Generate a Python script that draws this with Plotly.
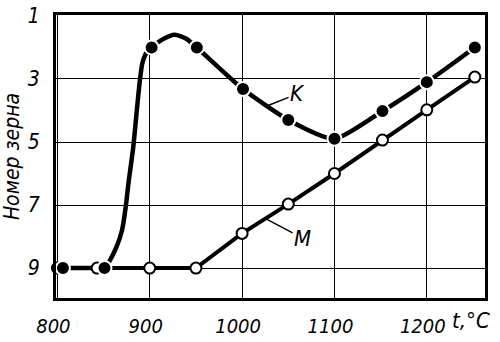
import plotly.graph_objects as go

# ---- data ----
# Curve K (filled markers)
k_t = [806, 851, 902, 951, 1001, 1050, 1100, 1152, 1200, 1252]
k_n = [9.0, 9.0, 2.0, 2.0, 3.32, 4.3, 4.9, 4.02, 3.1, 2.0]
# shape of curve K between markers
k_rise_t = [857, 864, 870, 874, 877, 882, 886, 889, 892, 897]
k_rise_n = [8.75, 8.33, 7.8, 7.06, 6.3, 5.2, 4.0, 3.13, 2.5, 2.14]
k_arc_t = [913, 927, 940]
k_arc_n = [1.76, 1.6, 1.73]

# Curve M (open markers)
m_t = [800, 843, 900, 950, 1000, 1050, 1100, 1152, 1200, 1252]
m_n = [9.0, 9.0, 9.0, 9.0, 7.9, 6.97, 6.0, 4.94, 3.98, 2.94]

x_ticks = [800, 900, 1000, 1100, 1200]
y_ticks = [1, 3, 5, 7, 9]
x_unit = "t,°C"
y_title = "Номер зерна"

FONT = "DejaVu Sans Condensed, sans-serif"

# K line: starts at the second marker (the flat part is shared with M)
k_line_t = [k_t[1]] + k_rise_t + [k_t[2]] + k_arc_t + k_t[3:]
k_line_n = [k_n[1]] + k_rise_n + [k_n[2]] + k_arc_n + k_n[3:]

fig = go.Figure()
fig.add_trace(go.Scatter(x=k_t[:2], y=k_n[:2], mode="lines",
                         line=dict(color="black", width=4.5),
                         showlegend=False, hoverinfo="skip"))
fig.add_trace(go.Scatter(x=m_t, y=m_n, mode="lines+markers", cliponaxis=False,
                         line=dict(color="black", width=4),
                         marker=dict(size=11, color="white", line=dict(color="black", width=2)),
                         showlegend=False, hoverinfo="skip"))
fig.add_trace(go.Scatter(x=k_line_t, y=k_line_n, mode="lines",
                         line=dict(color="black", width=4.5, shape="spline", smoothing=0.6),
                         showlegend=False, hoverinfo="skip"))
fig.add_trace(go.Scatter(x=k_t, y=k_n, mode="markers",
                         marker=dict(size=14, color="black", line=dict(color="white", width=2)),
                         showlegend=False, hoverinfo="skip"))

lab_font = dict(family=FONT, size=22, color="black", style="italic")
fig.add_annotation(x=1027.5, y=3.85, text="K", showarrow=True, ax=30, ay=-12,
                   arrowhead=0, arrowwidth=1.5, arrowcolor="black", standoff=0,
                   font=lab_font)
fig.add_annotation(x=1026.5, y=7.45, text="M", showarrow=True, ax=36, ay=19,
                   arrowhead=0, arrowwidth=1.5, arrowcolor="black", standoff=0,
                   font=lab_font)
fig.add_annotation(x=1, y=0, xref="paper", yref="paper", xanchor="right", yanchor="top",
                   xshift=7, yshift=-8, text=x_unit, showarrow=False, font=lab_font)

fig.update_layout(
    width=500, height=342,
    margin=dict(l=56, r=15, t=15, b=44),
    paper_bgcolor="white", plot_bgcolor="white",
    font=dict(family=FONT, color="black"),
)
fig.update_xaxes(range=[798.5, 1263], tickvals=x_ticks, ticktext=[str(v) for v in x_ticks],
                 showgrid=True, gridcolor="black", gridwidth=1.3,
                 showline=True, linecolor="black", linewidth=3, mirror=True,
                 ticks="", ticklabelstandoff=8, ticklabelshift=-4, zeroline=False,
                 automargin=False,
                 tickfont=dict(family=FONT, size=20, style="italic"))
fig.update_yaxes(range=[9.95, 0.97], tickvals=y_ticks, ticktext=[str(v) for v in y_ticks],
                 showgrid=True, gridcolor="black", gridwidth=1.3,
                 showline=True, linecolor="black", linewidth=3, mirror=True,
                 ticks="", ticklabelstandoff=9, zeroline=False, automargin=False,
                 tickfont=dict(family=FONT, size=21, style="italic"),
                 title=dict(text=y_title, standoff=6,
                            font=dict(family=FONT, size=21, style="italic")))

fig.write_html("out.html")
